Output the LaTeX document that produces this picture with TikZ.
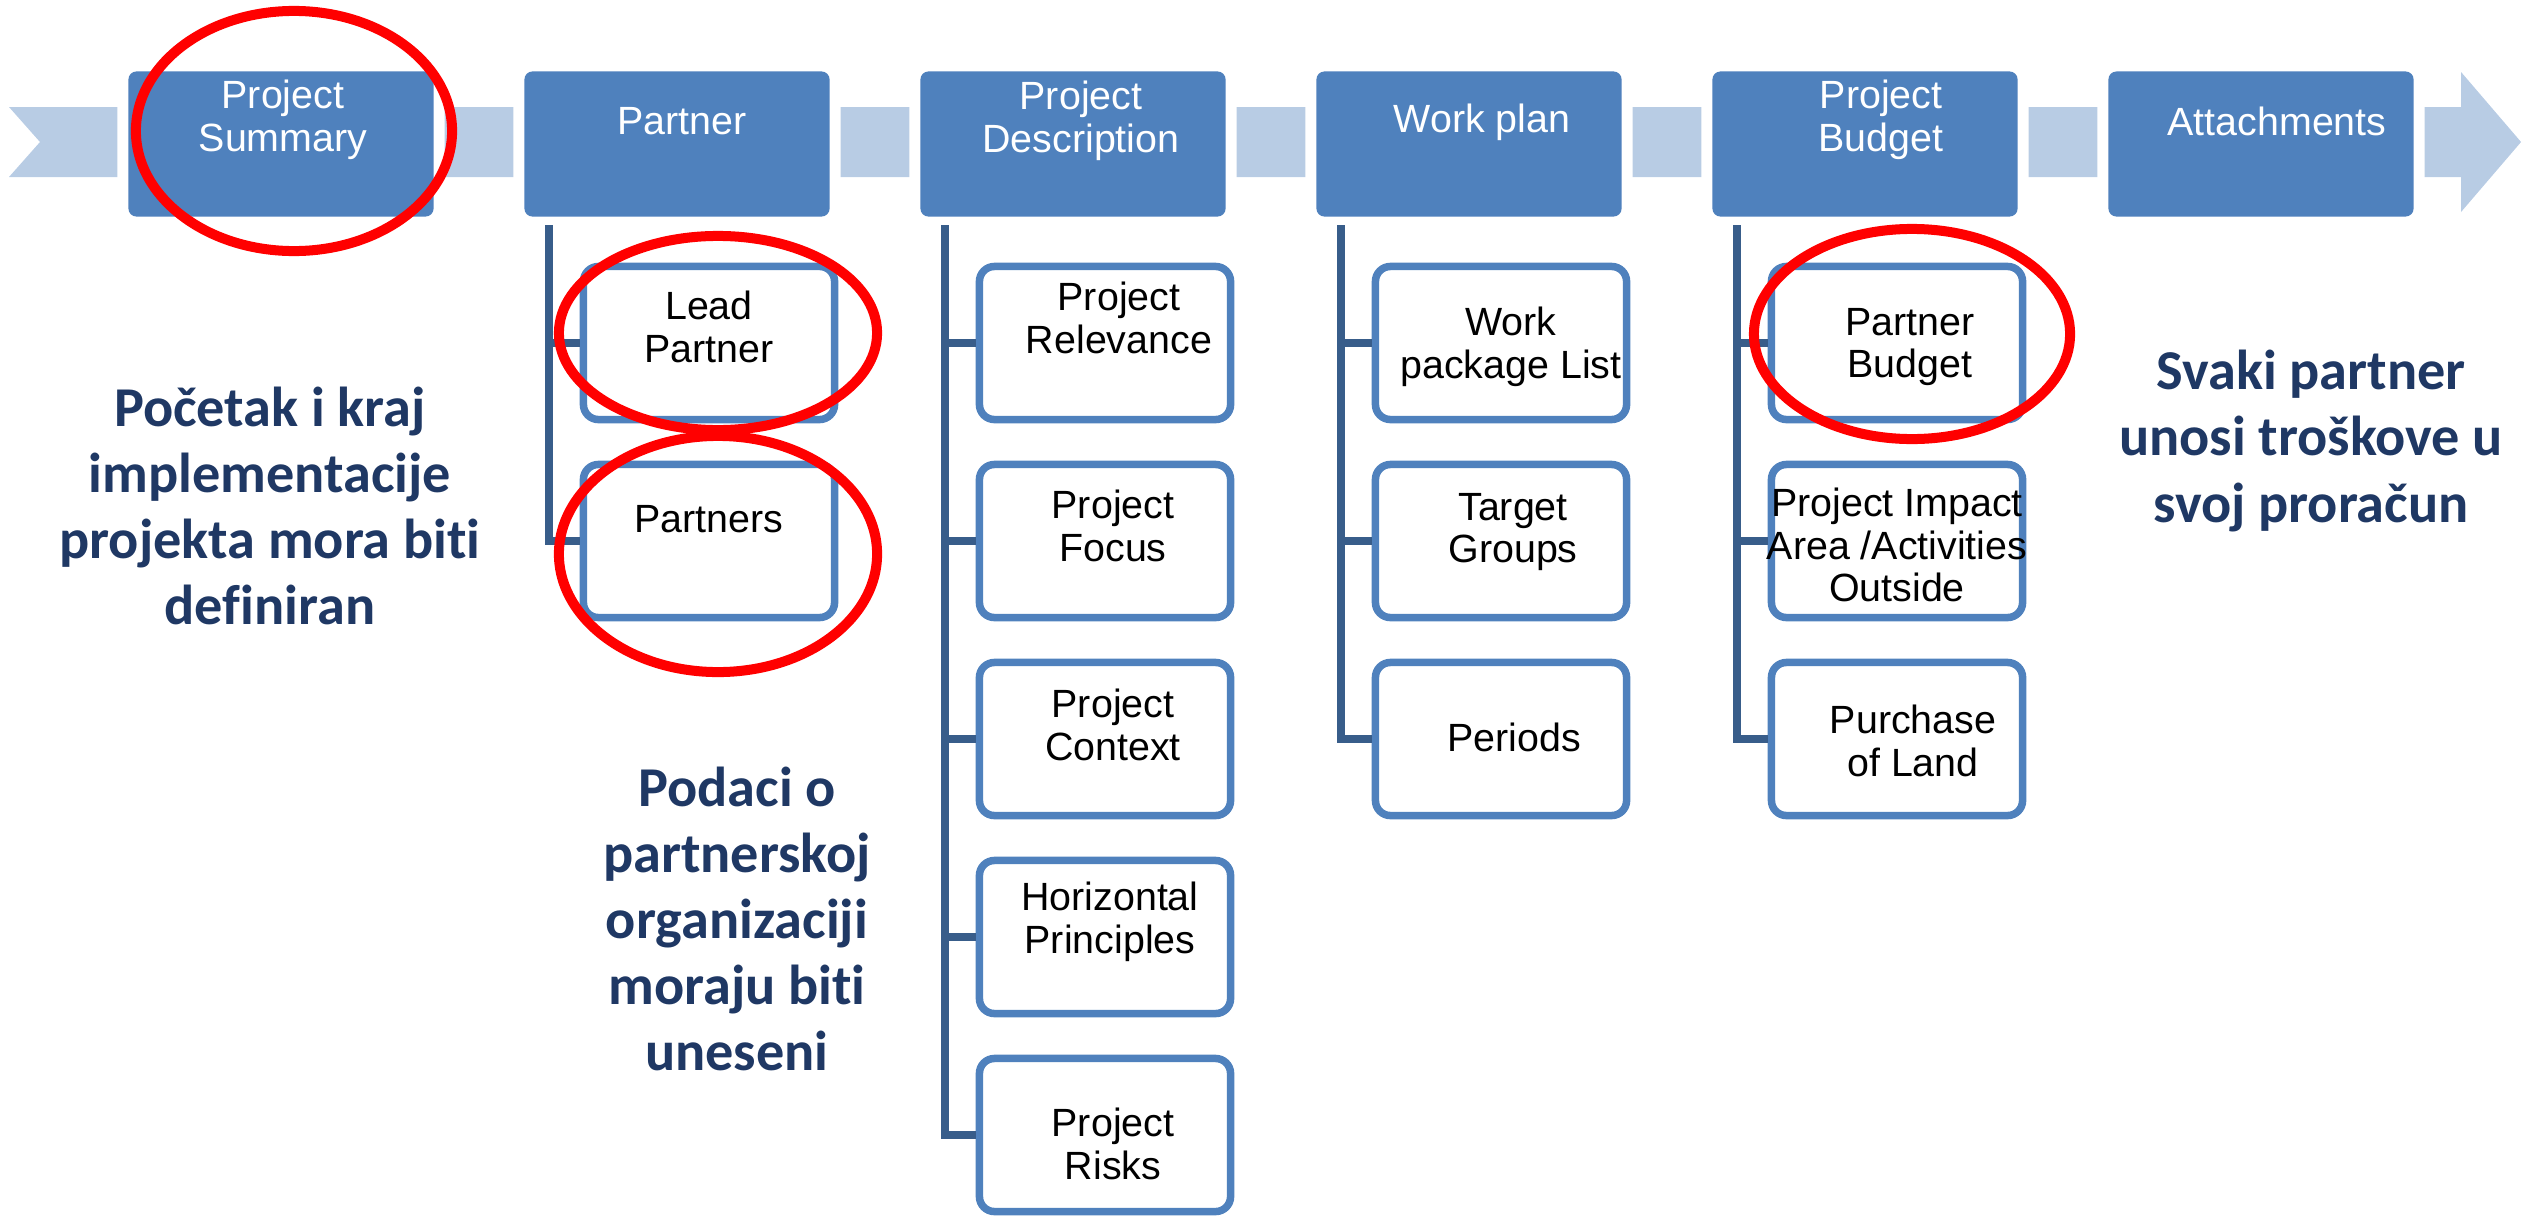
\documentclass[tikz,border=0pt]{standalone}
\usepackage{fontspec}
\setmainfont{Liberation Sans}
\newfontfamily\notefont[Ligatures=NoCommon]{Carlito}
\usetikzlibrary{shapes.geometric}

\definecolor{boxblue}{RGB}{79,129,189}
\definecolor{bandblue}{RGB}{184,204,228}
\definecolor{linkblue}{RGB}{56,93,138}
\definecolor{navy}{RGB}{31,56,100}

\begin{document}
\begin{tikzpicture}[x=0.01cm, y=-0.01cm,
    phase/.style ={rectangle, rounded corners=0.08cm, fill=boxblue, preaction={draw=white, line width=0.22cm},
        minimum width=3.05cm, minimum height=1.45cm, inner sep=0pt},
    phasetext/.style ={text=white, align=center, font=\fontsize{11.2}{12.2}\selectfont},
    item/.style ={rectangle, rounded corners=0.15cm, draw=boxblue, line width=0.075cm, fill=white,
        minimum width=2.51cm, minimum height=1.53cm, inner sep=0pt},
    itemtext/.style ={align=center, font=\fontsize{11.2}{12.2}\selectfont},
    link/.style ={draw=linkblue, line width=0.075cm},
    ring/.style ={ellipse, draw=red, line width=0.1cm, inner sep=0pt},
    note/.style ={text=navy, align=center, font=\notefont\bfseries\fontsize{16}{18.8}\selectfont}]
   \useasboundingbox (0,0) rectangle (2522,1221);
   % band behind the phases
   \fill[bandblue] (9,107) -- (2461,107) -- (2461,72) -- (2521,142) -- (2461,212)
        -- (2461,177) -- (9,177) -- (40,142) -- cycle;
   % phases
   \node[phase] (ps) at (281,144) {};
   \node[phase] (pa) at (677,144) {};
   \node[phase] (pd) at (1073,144) {};
   \node[phase] (wp) at (1469,144) {};
   \node[phase] (pb) at (1865,144) {};
   \node[phase] (at) at (2261,144) {};
   \node[phasetext] (ps-t) at (283,120) {Project\\Summary};
   \node[phasetext] (pa-t) at (682,121) {Partner};
   \node[phasetext] (pd-t) at (1081,121) {Project\\Description};
   \node[phasetext] (wp-t) at (1482,122) {Work plan};
   \node[phasetext] (pb-t) at (1881,120) {Project\\Budget};
   \node[phasetext] (at-t) at (2277,121) {Attachments};
   % sub items
   \node[item] (lp) at (709,343) {};
   \node[item] (prt) at (709,541) {};
   \node[item] (rel) at (1105,343) {};
   \node[item] (foc) at (1105,541) {};
   \node[item] (ctx) at (1105,739) {};
   \node[item] (hor) at (1105,937) {};
   \node[item] (rsk) at (1105,1135) {};
   \node[item] (wpl) at (1501,343) {};
   \node[item] (tg) at (1501,541) {};
   \node[item] (per) at (1501,739) {};
   \node[item] (pbud) at (1897,343) {};
   \node[item] (imp) at (1897,541) {};
   \node[item] (pol) at (1897,739) {};
   \node[itemtext] (lp-t) at (709,327) {Lead\\Partner};
   \node[itemtext] (prt-t) at (709,519) {Partners};
   \node[itemtext] (rel-t) at (1119,318) {Project\\Relevance};
   \node[itemtext] (foc-t) at (1113,526) {Project\\Focus};
   \node[itemtext] (ctx-t) at (1113,725) {Project\\Context};
   \node[itemtext] (hor-t) at (1110,922) {Horizontal\\Principles};
   \node[itemtext] (rsk-t) at (1113,1144) {Project\\Risks};
   \node[itemtext] (wpl-t) at (1511,347) {Work\\package List};
   \node[itemtext] (tg-t) at (1513,532) {Target\\Groups};
   \node[itemtext] (per-t) at (1514,737) {Periods};
   \node[itemtext] (pbud-t) at (1910,347) {Partner\\Budget};
   \node[itemtext] (imp-t) at (1897,545) {Project Impact\\Area /Activities\\Outside};
   \node[itemtext] (pol-t) at (1913,741) {Purchase\\of Land};
   % tree lines
   \coordinate (pa-l) at (549,225);
   \coordinate (pd-l) at (945,225);
   \coordinate (wp-l) at (1341,225);
   \coordinate (pb-l) at (1737,225);
   \draw[link] (pa-l) |- (prt.west);
   \draw[link] (pa-l |- lp.west) -- (lp.west);
   \draw[link] (pd-l) |- (rsk.west);
   \draw[link] (pd-l |- rel.west) -- (rel.west);
   \draw[link] (pd-l |- foc.west) -- (foc.west);
   \draw[link] (pd-l |- ctx.west) -- (ctx.west);
   \draw[link] (pd-l |- hor.west) -- (hor.west);
   \draw[link] (wp-l) |- (per.west);
   \draw[link] (wp-l |- wpl.west) -- (wpl.west);
   \draw[link] (wp-l |- tg.west) -- (tg.west);
   \draw[link] (pb-l) |- (pol.west);
   \draw[link] (pb-l |- pbud.west) -- (pbud.west);
   \draw[link] (pb-l |- imp.west) -- (imp.west);
   % red rings
   \node[ring, minimum width=3.16cm, minimum height=2.40cm] (ring-ps) at (294,131) {};
   \node[ring, minimum width=3.18cm, minimum height=1.94cm] (ring-lp) at (718,333) {};
   \node[ring, minimum width=3.18cm, minimum height=2.36cm] (ring-prt) at (718,554) {};
   \node[ring, minimum width=3.16cm, minimum height=2.10cm] (ring-pbud) at (1912,334) {};
   % notes
   \node[note] (note-ps) at (270,506) {Početak i kraj\\implementacije\\projekta mora biti\\definiran};
   \node[note] (note-pa) at (737,919) {Podaci o\\partnerskoj\\organizaciji\\moraju biti\\uneseni};
   \node[note] (note-pb) at (2311,441) {Svaki partner\\unosi troškove u\\svoj proračun};
 \end{tikzpicture}
\end{document}
